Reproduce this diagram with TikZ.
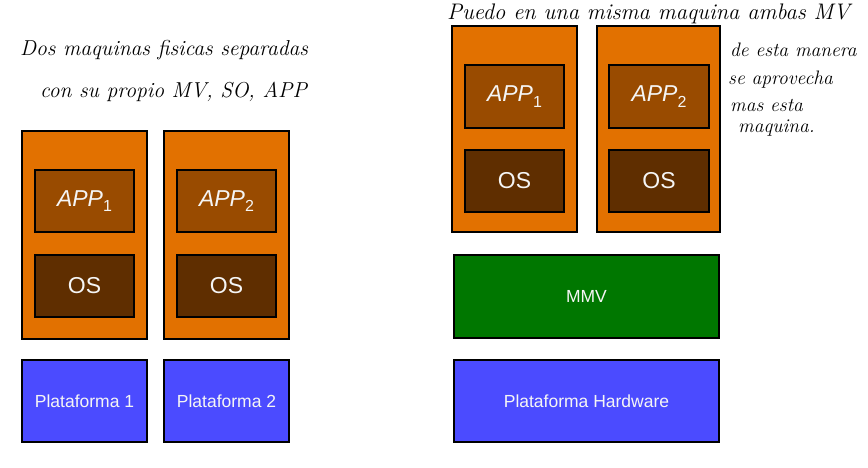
\documentclass[tikz,border=0pt]{standalone}
\usepackage{fontspec}
\setmainfont{Liberation Sans}
\newfontfamily\handfont{Latin Modern Roman}
\definecolor{machine}{HTML}{E27100}
\definecolor{appc}{HTML}{994B00}
\definecolor{osc}{HTML}{5F2E00}
\definecolor{platc}{HTML}{4B4BFF}
\definecolor{mmvc}{HTML}{007700}
\newcommand{\appsub}[1]{\textit{APP}\raisebox{-0.45ex}{\fontsize{16}{16}\selectfont #1}}
\tikzset{
  box/.style={draw=black, line width=2pt, inner sep=0pt, rectangle},
  machinebox/.style={box, fill=machine, minimum width=125pt, minimum height=208pt},
  appbox/.style={box, fill=appc, minimum width=99pt, minimum height=62pt, text=white!92!gray, font=\fontsize{23}{23}\selectfont},
  osbox/.style={box, fill=osc, minimum width=99pt, minimum height=62pt, text=white!92!gray, font=\fontsize{23}{23}\selectfont},
  platbox/.style={box, fill=platc, minimum width=125pt, minimum height=82pt, text=white!92!gray, font=\fontsize{17.5}{17.5}\selectfont},
  mmvbox/.style={box, fill=mmvc, minimum width=265pt, minimum height=83pt, text=white!92!gray, font=\fontsize{17.5}{17.5}\selectfont},
  hand/.style={anchor=west, inner sep=0pt, font=\handfont\itshape\fontsize{21.6}{21.6}\selectfont},
  handsmall/.style={anchor=west, inner sep=0pt, font=\handfont\itshape\fontsize{19.5}{19.5}\selectfont}
}
\begin{document}
\begin{tikzpicture}[x=1pt,y=-1pt]
\useasboundingbox (0,0) rectangle (868,467);
% left: two separate physical machines
\node[machinebox] (m1) at (84.5,235) {};
\node[appbox] (app1) at (84.5,201) {\appsub{1}};
\node[osbox] (os1) at (84.5,286) {OS};
\node[machinebox] (m2) at (226.5,235) {};
\node[appbox] (app2) at (226.5,201) {\appsub{2}};
\node[osbox] (os2) at (226.5,286) {OS};
\node[platbox] (p1) at (84.5,401) {Plataforma 1};
\node[platbox] (p2) at (226.5,401) {Plataforma 2};
% right: one machine, two VMs
\node[machinebox, minimum height=206pt] (v1) at (514.5,129) {};
\node[appbox, minimum height=63pt] (vapp1) at (514.5,96.5) {\appsub{1}};
\node[osbox] (vos1) at (514.5,181) {OS};
\node[machinebox, minimum width=123pt, minimum height=206pt] (v2) at (658.5,129) {};
\node[appbox, minimum width=100pt, minimum height=63pt] (vapp2) at (659,96.5) {\appsub{2}};
\node[osbox, minimum width=100pt] (vos2) at (659,181) {OS};
\node[mmvbox] (mmv) at (586.5,296.5) {MMV};
\node[mmvbox, fill=platc, minimum height=82pt] (ph) at (586.5,401) {Plataforma Hardware};
% handwritten notes
\node[hand] (t1) at (20,50) {Dos maquinas fisicas separadas};
\node[hand] (t2) at (40,92) {con su propio MV, SO, APP};
\node[hand, font=\handfont\itshape\fontsize{22.5}{22.5}\selectfont] (t3) at (447,14) {Puedo en una misma maquina ambas MV};
\node[handsmall] (t4) at (730,50) {de esta manera};
\node[handsmall] (t5) at (728,80) {se aprovecha};
\node[handsmall] (t6) at (730,105) {mas esta};
\node[handsmall] (t7) at (738,128) {maquina.};
\end{tikzpicture}
\end{document}
